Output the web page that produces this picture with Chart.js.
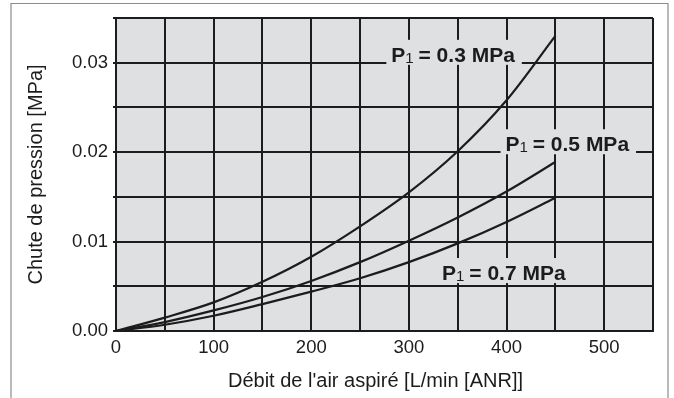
<!DOCTYPE html>
<html lang="fr">
<head>
<meta charset="UTF-8">
<title>Chute de pression</title>
<script src="https://cdn.jsdelivr.net/npm/chart.js"></script>
<style>
  body { margin: 0; background: #fff; }
  canvas { display: block; }
</style>
</head>
<body>
<canvas id="pressureChart" width="674" height="398"></canvas>

<script>
// Débit (L/min ANR) and pressure drop (MPa) for each supply pressure
const flowRates = [0, 50, 100, 150, 200, 250, 300, 350, 400, 450];
const drop03 = [0, 0.0015, 0.0032, 0.0055, 0.0083, 0.0117, 0.0155, 0.0201, 0.0258, 0.0330];
const drop05 = [0, 0.0010, 0.0023, 0.0038, 0.0056, 0.0077, 0.0101, 0.0127, 0.0156, 0.0189];
const drop07 = [0, 0.0007, 0.0017, 0.0030, 0.0044, 0.0059, 0.0077, 0.0098, 0.0122, 0.0149];

const pressureNames = ['0.3', '0.5', '0.7'];
const xTicks = [0, 100, 200, 300, 400, 500];
const yTicks = [0, 0.01, 0.02, 0.03];

const INK = '#1c1c1c';
const FONT = "'Liberation Sans', Arial, sans-serif";

// where each "P1 = ... MPa" tag sits (left edge / baseline, in axis units)
const tagPlaces = [
  { x: 282, y: 0.0301 },
  { x: 399, y: 0.0201 },
  { x: 334, y: 0.0057 }
];

function series(values) {
  return values.map((v, i) => ({ x: flowRates[i], y: v }));
}

const frameAndBackground = {
  id: 'frameAndBackground',
  beforeDraw(chart) {
    const { ctx, chartArea: a } = chart;
    ctx.save();
    // outer frame, open at the bottom
    ctx.strokeStyle = '#8c8c8c';
    ctx.lineWidth = 1.2;
    ctx.beginPath();
    ctx.moveTo(11, 398);
    ctx.lineTo(11, 3.5);
    ctx.lineTo(668, 3.5);
    ctx.lineTo(668, 398);
    ctx.stroke();
    // plot background
    ctx.fillStyle = '#dfe0e2';
    ctx.fillRect(a.left, a.top, a.right - a.left, a.bottom - a.top);
    ctx.restore();
  },
  afterDraw(chart) {
    // x axis title, sitting a little left of the plot centre
    const { ctx, chartArea: a } = chart;
    ctx.save();
    ctx.fillStyle = INK;
    ctx.font = '20px ' + FONT;
    ctx.textAlign = 'center';
    ctx.textBaseline = 'middle';
    ctx.fillText("Débit de l'air aspiré [L/min [ANR]]", (a.left + a.right) / 2 - 9, 381);
    ctx.restore();
  }
};

const pressureTags = {
  id: 'pressureTags',
  beforeDatasetsDraw(chart) {
    const { ctx, scales } = chart;
    const big = 'bold 21px ' + FONT;
    const small = '15px ' + FONT;
    ctx.save();
    ctx.textBaseline = 'alphabetic';
    ctx.textAlign = 'left';
    tagPlaces.forEach((p, i) => {
      const x = scales.x.getPixelForValue(p.x);
      const y = scales.y.getPixelForValue(p.y);
      const rest = ' = ' + pressureNames[i] + ' MPa';
      ctx.font = big;
      const wP = ctx.measureText('P').width;
      const wRest = ctx.measureText(rest).width;
      ctx.font = small;
      const wSub = ctx.measureText('1').width;
      const total = wP + wSub + wRest;

      ctx.fillStyle = '#dfe0e2';
      ctx.fillRect(x - 5, y - 22, total + 11, 25);

      ctx.fillStyle = INK;
      ctx.font = big;
      ctx.fillText('P', x, y);
      ctx.font = small;
      ctx.fillText('1', x + wP, y + 1);
      ctx.font = big;
      ctx.fillText(rest, x + wP + wSub - 1, y);
    });
    ctx.restore();
  }
};

const lineStyle = {
  borderColor: INK,
  borderWidth: 2.2,
  pointRadius: 0,
  fill: false,
  cubicInterpolationMode: 'monotone'
};

const ctx = document.getElementById('pressureChart').getContext('2d');
new Chart(ctx, {
  type: 'line',
  data: {
    datasets: [
      { label: 'P1 = 0.3 MPa', data: series(drop03), ...lineStyle },
      { label: 'P1 = 0.5 MPa', data: series(drop05), ...lineStyle },
      { label: 'P1 = 0.7 MPa', data: series(drop07), ...lineStyle }
    ]
  },
  options: {
    responsive: false,
    animation: false,
    layout: { padding: { top: 18, right: 21, left: 0, bottom: 0 } },
    plugins: {
      legend: { display: false },
      tooltip: { enabled: false }
    },
    scales: {
      x: {
        type: 'linear',
        min: 0,
        max: 550,
        afterFit(scale) { scale.height = 67; },
        ticks: {
          stepSize: 50,
          autoSkip: false,
          maxRotation: 0,
          padding: 6,
          color: INK,
          font: { family: FONT, size: 18.5 },
          callback: v => (xTicks.includes(v) ? String(v) : '')
        },
        grid: { color: INK, lineWidth: 2, drawTicks: false },
        border: { color: INK, width: 2 }
      },
      y: {
        min: 0,
        max: 0.035,
        afterFit(scale) { scale.width = 116; },
        ticks: {
          stepSize: 0.005,
          autoSkip: false,
          padding: 5,
          color: INK,
          font: { family: FONT, size: 18.5 },
          callback: v => (yTicks.some(t => Math.abs(t - v) < 1e-9) ? v.toFixed(2) : '')
        },
        grid: { color: INK, lineWidth: 2, tickLength: 3 },
        border: { color: INK, width: 2 },
        title: {
          display: true,
          text: 'Chute de pression [MPa]',
          color: INK,
          font: { family: FONT, size: 20 },
          padding: { top: 24, bottom: 0 }
        }
      }
    }
  },
  plugins: [frameAndBackground, pressureTags]
});
</script>
</body>
</html>
